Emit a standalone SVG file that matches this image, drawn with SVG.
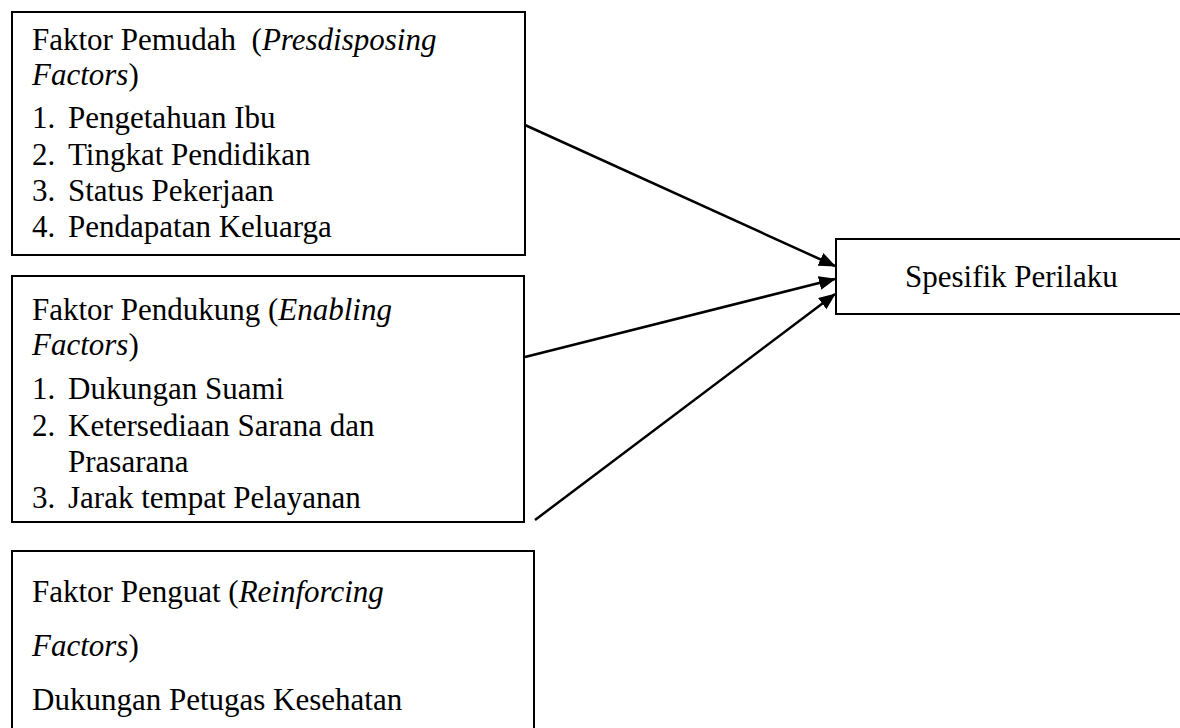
<svg xmlns="http://www.w3.org/2000/svg" width="1180" height="728" viewBox="0 0 1180 728">
<style>
.box{fill:#fff;stroke:#000;stroke-width:2}
.t{font-family:"Liberation Serif","Times New Roman",serif;font-size:31px;fill:#000;white-space:pre}
.i{font-style:italic}
.c{stroke:#000;stroke-width:2.5;fill:none}
</style>
<defs>
<marker id="ah" markerWidth="17" markerHeight="14" refX="16" refY="7" orient="auto" markerUnits="userSpaceOnUse">
<path d="M0,0 L17,7 L0,14 Z" fill="#000"/>
</marker>
</defs>
<rect width="1180" height="728" fill="#fff"/>
<g id="connectors">
<line class="c" x1="525" y1="125" x2="835" y2="266" marker-end="url(#ah)"/>
<line class="c" x1="525" y1="357" x2="835" y2="279" marker-end="url(#ah)"/>
<line class="c" x1="535" y1="520" x2="835" y2="294" marker-end="url(#ah)"/>
</g>
<g id="n1">
<rect class="box" x="12" y="12" width="513" height="243"/>
<text class="t" x="32" y="50">Faktor Pemudah  (<tspan class="i">Presdisposing</tspan></text>
<text class="t" x="32" y="85"><tspan class="i">Factors</tspan>)</text>
<text class="t" x="32" y="128">1.</text><text class="t" x="68" y="128">Pengetahuan Ibu</text>
<text class="t" x="32" y="165">2.</text><text class="t" x="68" y="165">Tingkat Pendidikan</text>
<text class="t" x="32" y="201">3.</text><text class="t" x="68" y="201">Status Pekerjaan</text>
<text class="t" x="32" y="237">4.</text><text class="t" x="68" y="237">Pendapatan Keluarga</text>
</g>
<g id="n2">
<rect class="box" x="12" y="276" width="512" height="246"/>
<text class="t" x="32" y="320">Faktor Pendukung (<tspan class="i">Enabling</tspan></text>
<text class="t" x="32" y="355"><tspan class="i">Factors</tspan>)</text>
<text class="t" x="32" y="399">1.</text><text class="t" x="68" y="399">Dukungan Suami</text>
<text class="t" x="32" y="436">2.</text><text class="t" x="68" y="436">Ketersediaan Sarana dan</text>
<text class="t" x="68" y="472">Prasarana</text>
<text class="t" x="32" y="508">3.</text><text class="t" x="68" y="508">Jarak tempat Pelayanan</text>
</g>
<g id="n3">
<rect class="box" x="12" y="551" width="522" height="190"/>
<text class="t" x="32" y="602">Faktor Penguat (<tspan class="i">Reinforcing</tspan></text>
<text class="t" x="32" y="656"><tspan class="i">Factors</tspan>)</text>
<text class="t" x="32" y="710">Dukungan Petugas Kesehatan</text>
</g>
<g id="n4">
<rect class="box" x="836" y="239" width="360" height="75"/>
<text class="t" x="905" y="287">Spesifik Perilaku</text>
</g>
</svg>
